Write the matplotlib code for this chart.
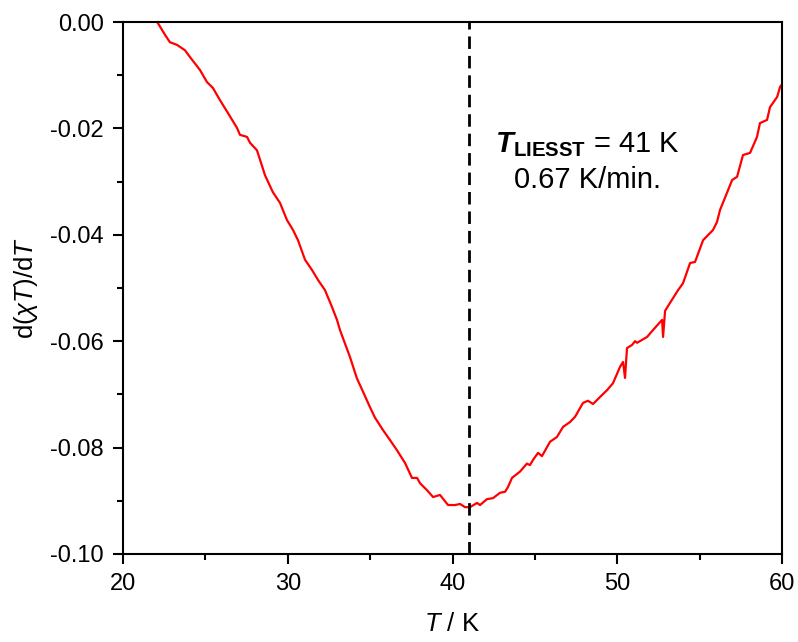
import matplotlib
matplotlib.use('Agg')
import matplotlib.pyplot as plt
from matplotlib.ticker import MultipleLocator, FuncFormatter

plt.rcParams['font.family'] = ['Liberation Sans', 'DejaVu Sans']
plt.rcParams['mathtext.fontset'] = 'custom'
plt.rcParams['mathtext.rm'] = 'Liberation Sans'
plt.rcParams['mathtext.it'] = 'Liberation Sans:italic'
plt.rcParams['mathtext.bf'] = 'Liberation Sans:bold'
plt.rcParams['mathtext.bfit'] = 'Liberation Sans:bold:italic'
plt.rcParams['axes.unicode_minus'] = False

# d(chi T)/dT vs temperature
temperature = [22.06, 22.12, 22.55, 22.85, 23.28, 23.76, 24.07, 24.67, 25.10,
               25.46, 25.89, 26.37, 26.92, 27.10, 27.53, 27.71, 28.13, 28.32,
               28.62, 29.10, 29.53, 29.95, 30.32, 30.62, 31.05, 31.47, 31.84,
               32.26, 32.69, 32.99, 33.17, 33.78, 34.20, 34.57, 34.99, 35.30,
               35.78, 36.21, 36.63, 37.12, 37.54, 37.85, 38.03, 38.45, 38.82,
               39.24, 39.73, 40.15, 40.46, 40.76, 41.06, 41.49, 41.67, 42.09,
               42.46, 42.88, 43.19, 43.37, 43.61, 44.10, 44.52, 44.70, 44.89,
               45.19, 45.43, 45.92, 46.34, 46.71, 47.13, 47.44, 47.92, 48.22,
               48.53, 48.95, 49.38, 49.74, 50.17, 50.35, 50.47, 50.59, 50.90,
               51.08, 51.20, 51.81, 52.17, 52.60, 52.72, 52.78, 52.90, 53.20,
               53.69, 53.99, 54.42, 54.72, 55.21, 55.81, 56.05, 56.24, 56.66,
               56.97, 57.27, 57.63, 58.06, 58.48, 58.66, 59.09, 59.27, 59.70,
               59.88, 60.00]
dchiT_dT = [0.0, -0.0002, -0.0024, -0.0038, -0.0043, -0.0053, -0.0066, -0.0090,
            -0.0113, -0.0124, -0.0147, -0.0171, -0.0199, -0.0212, -0.0216,
            -0.0227, -0.0241, -0.0259, -0.0288, -0.0320, -0.0340, -0.0372,
            -0.0391, -0.0410, -0.0447, -0.0466, -0.0485, -0.0504, -0.0536,
            -0.0560, -0.0579, -0.0630, -0.0670, -0.0695, -0.0724, -0.0744,
            -0.0767, -0.0786, -0.0805, -0.0829, -0.0857, -0.0857, -0.0867,
            -0.0880, -0.0893, -0.0889, -0.0908, -0.0908, -0.0906, -0.0912,
            -0.0912, -0.0904, -0.0908, -0.0897, -0.0895, -0.0885, -0.0883,
            -0.0874, -0.0857, -0.0845, -0.0830, -0.0833, -0.0823, -0.0810,
            -0.0816, -0.0789, -0.0780, -0.0761, -0.0752, -0.0742, -0.0716,
            -0.0712, -0.0718, -0.0705, -0.0692, -0.0679, -0.0648, -0.0639,
            -0.0669, -0.0613, -0.0607, -0.0600, -0.0603, -0.0592, -0.0579,
            -0.0564, -0.0560, -0.0592, -0.0543, -0.0528, -0.0504, -0.0491,
            -0.0453, -0.0451, -0.0410, -0.0391, -0.0376, -0.0353, -0.0321,
            -0.0297, -0.0291, -0.0250, -0.0246, -0.0216, -0.0190, -0.0184,
            -0.0160, -0.0141, -0.0122, -0.0117]

t_liesst = 41
rate_label = '0.67 K/min.'


def fmt_y(v, pos):
    if abs(v) < 1e-9:
        v = 0.0
    return '%.2f' % v


fig = plt.figure(figsize=(7.98, 6.42), dpi=100)
ax = fig.add_axes([0.1541, 0.1371, 0.8259, 0.8286])

ax.plot(temperature, dchiT_dT, color='#ff0000', lw=1.6)
ax.axvline(t_liesst, color='black', lw=2.0, dashes=(4.5, 2.5))

ax.set_xlim(20, 60)
ax.set_ylim(-0.10, 0.0)
ax.xaxis.set_major_locator(MultipleLocator(10))
ax.xaxis.set_minor_locator(MultipleLocator(5))
ax.yaxis.set_major_locator(MultipleLocator(0.02))
ax.yaxis.set_minor_locator(MultipleLocator(0.01))
ax.yaxis.set_major_formatter(FuncFormatter(fmt_y))
ax.tick_params(which='both', direction='out', top=False, right=False,
               width=1.5, labelsize=17)
ax.tick_params(which='major', length=7, pad=7)
ax.tick_params(which='minor', length=4)
for sp in ax.spines.values():
    sp.set_linewidth(1.5)

ax.set_xlabel(r'$\mathit{T}$ / K', fontsize=18.5, labelpad=12)
ax.set_ylabel(r'd($\chi\mathit{T}$)/d$\mathit{T}$', fontsize=18.5, labelpad=7)

ax.text(42.58, -0.0244, r'$\mathbfit{T}_{\mathbf{LIESST}}$' + ' = %d K' % t_liesst,
        fontsize=21, ha='left', va='baseline')
ax.text(48.22, -0.0312, rate_label, fontsize=21, ha='center', va='baseline')

fig.savefig('out.png', dpi=100)
